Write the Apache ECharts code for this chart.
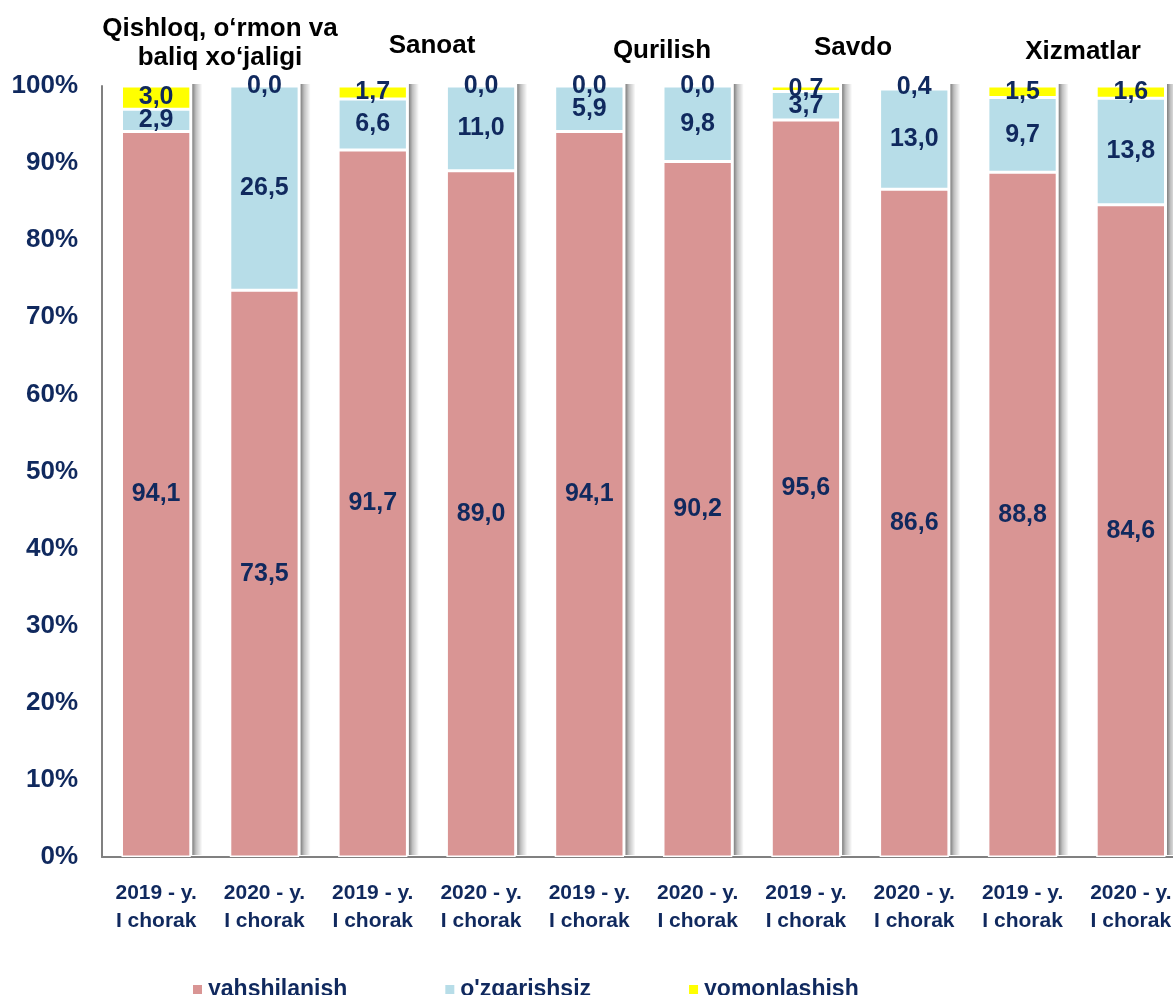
<!DOCTYPE html>
<html><head><meta charset="utf-8">
<script src="https://cdn.jsdelivr.net/npm/echarts@6/dist/echarts.min.js"></script>
<style>html,body{margin:0;padding:0;overflow:hidden;background:#fff}#c{width:1190px;height:995px}</style>
</head><body><div id="c"></div>
<script>
const categories = ['2019 - y.\nI chorak','2020 - y.\nI chorak','2019 - y.\nI chorak','2020 - y.\nI chorak','2019 - y.\nI chorak','2020 - y.\nI chorak','2019 - y.\nI chorak','2020 - y.\nI chorak','2019 - y.\nI chorak','2020 - y.\nI chorak'];
const groupTitles = ['Qishloq, o‘rmon va\nbaliq xo‘jaligi','Sanoat','Qurilish','Savdo','Xizmatlar'];
const seriesNames = ['yahshilanish','o\'zgarishsiz','yomonlashish'];
const yahshilanish = [94.1, 73.5, 91.7, 89.0, 94.1, 90.2, 95.6, 86.6, 88.8, 84.6];
const ozgarishsiz = [2.9, 26.5, 6.6, 11.0, 5.9, 9.8, 3.7, 13.0, 9.7, 13.8];
const yomonlashish = [3.0, 0.0, 1.7, 0.0, 0.0, 0.0, 0.7, 0.4, 1.5, 1.6];
const yTicks = [0,10,20,30,40,50,60,70,80,90,100];

const NAVY = '#10295e';
const FONT = '"Liberation Sans", Arial, sans-serif';
const colors = ['#d99594','#b7dde8','#ffff00'];
const dataArr = [yahshilanish, ozgarishsiz, yomonlashish];
const BAR_FRAC = 0.64;

const chart = echarts.init(document.getElementById('c'));
const series = dataArr.map((d,i)=>({
  name: seriesNames[i], type:'bar', stack:'s', data:d, barCategoryGap:'36%', z:3,
  itemStyle:{color:colors[i], borderColor:'#fff', borderWidth:1.5},
  label:{show:true, position:'inside', color:NAVY, fontFamily:FONT, fontWeight:'bold', fontSize:25,
    formatter:p=>p.value.toFixed(1).replace('.',',')},
  labelLayout:{hideOverlap:false}
}));
// right-side shadow of each full bar
const totals = categories.map((c,i)=>[i, yahshilanish[i]+ozgarishsiz[i]+yomonlashish[i]]);
series.push({
  type:'custom', name:'shadow', z:1, silent:true, data:totals, encode:{x:0,y:1},
  renderItem:(params, api)=>{
    const p0 = api.coord([api.value(0), 0]);
    const p1 = api.coord([api.value(0), api.value(1)]);
    const w = api.size([1,0])[0]*BAR_FRAC;
    const x = p0[0]+w/2+1.5;
    return {type:'rect', shape:{x:x, y:p1[1]-2, width:10, height:p0[1]-p1[1]},
      style:{fill:new echarts.graphic.LinearGradient(0,0,1,0,[{offset:0,color:'rgba(0,0,0,0.5)'},{offset:0.35,color:'rgba(0,0,0,0.25)'},{offset:1,color:'rgba(0,0,0,0)'}])}};
  }
});
const titlePos = [[220,43],[432,46],[662,51],[853,48],[1083,52]];
chart.setOption({
  animation:false,
  grid:{left:102, right:5, top:86, bottom:138},
  legend:{data:seriesNames, left:186, top:973, itemWidth:11, itemHeight:11, itemGap:96,
    icon:'rect', textStyle:{color:NAVY, fontFamily:FONT, fontWeight:'bold', fontSize:23}},
  xAxis:{type:'category', data:categories,
    axisLine:{lineStyle:{color:'#808080', width:2}}, axisTick:{show:false},
    axisLabel:{color:NAVY, fontFamily:FONT, fontWeight:'bold', fontSize:21, lineHeight:28, margin:22, interval:0}},
  yAxis:{type:'value', min:0, max:100, interval:10,
    axisLine:{show:true, lineStyle:{color:'#808080', width:2}}, axisTick:{show:false}, splitLine:{show:false},
    axisLabel:{color:NAVY, fontFamily:FONT, fontWeight:'bold', fontSize:26, margin:24, formatter:'{value}%'}},
  graphic: groupTitles.map((t,i)=>({type:'text', x:titlePos[i][0], y:titlePos[i][1],
    style:{text:t, fill:'#000', font:'bold 26px '+FONT, textAlign:'center', textVerticalAlign:'middle', lineHeight:29}})),
  series
});
</script></body></html>
